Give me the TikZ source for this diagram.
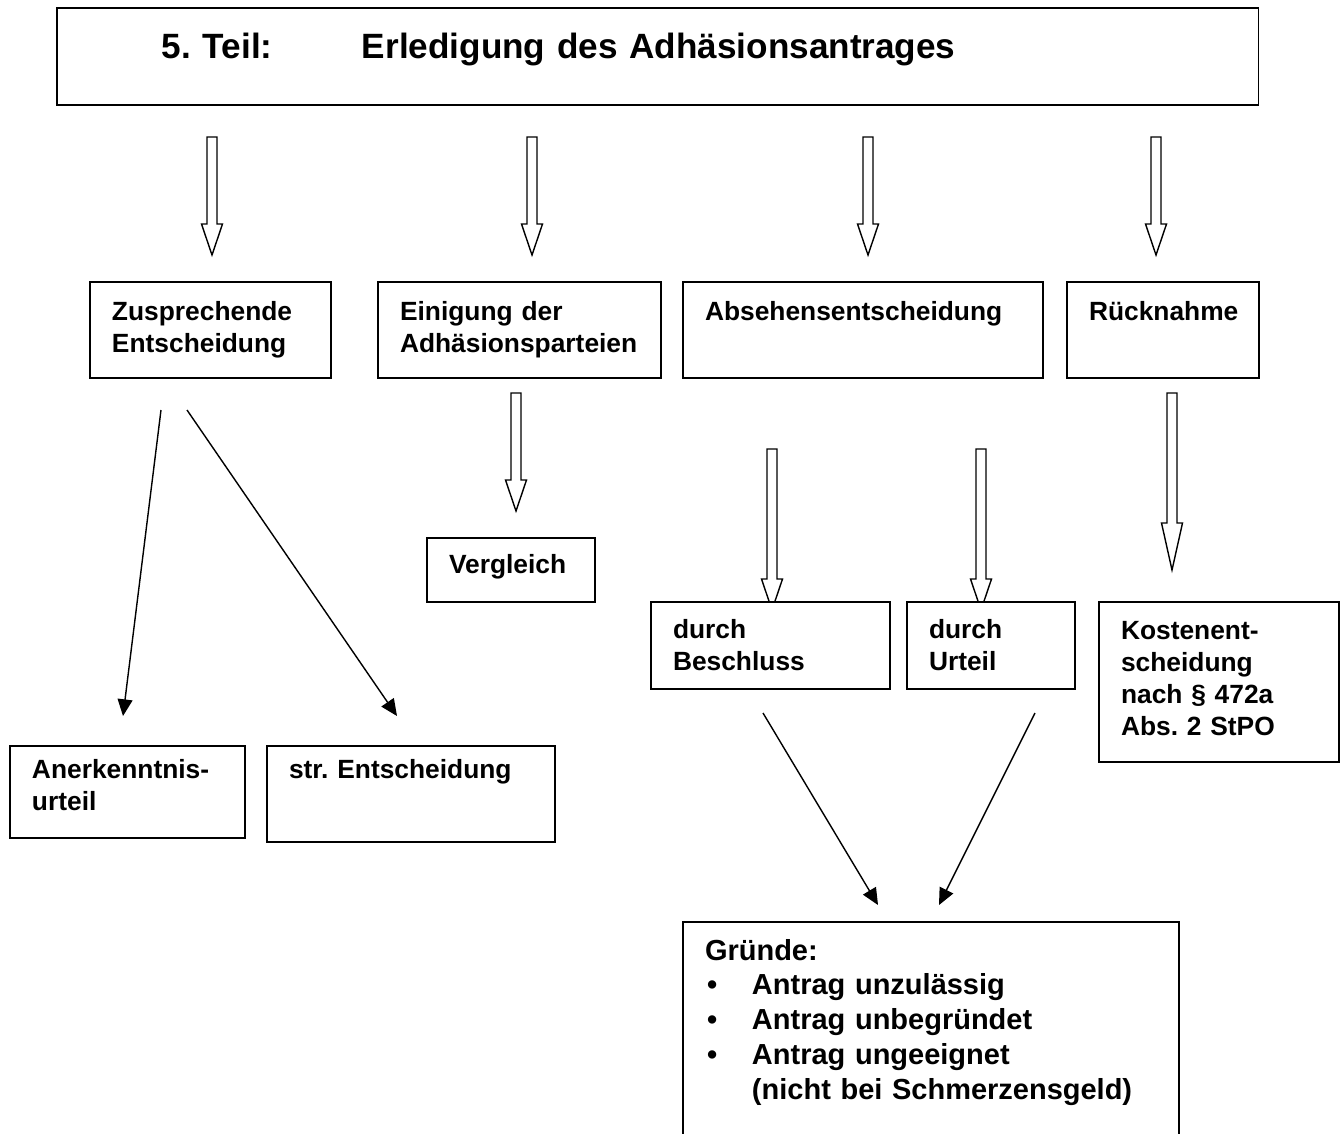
\documentclass[tikz,border=0pt]{standalone}
\usepackage{fontspec}
\setmainfont{Liberation Sans}
\usetikzlibrary{arrows.meta,calc}
\frenchspacing

\tikzset{
  box/.style n args={3}{draw, line width=0.8pt, fill=white, anchor=north west, outer sep=0pt,
    inner xsep=0.44cm, inner ysep=0pt, align=left,
    text width=#1, text height=#2, text depth=#3,
    font=\bfseries\fontsize{15pt}{18.4pt}\selectfont},
  hollow/.style={draw, line width=0.8pt, fill=white, line join=miter},
  arr/.style={line width=0.8pt, -{Triangle[length=9.5pt,width=8.5pt]}}
}

% block arrow: #1 top, #2 tip, #3 head length
\newcommand{\hollowarrow}[3]{%
  \draw[hollow] ($(#1)+(-5,0)$) -- ($(#1)+(5,0)$) -- ($(#2)+(5,-#3)$) -- ($(#2)+(10.5,-#3)$)
    -- (#2) -- ($(#2)+(-10.5,-#3)$) -- ($(#2)+(-5,-#3)$) -- cycle;}

\begin{document}
\begin{tikzpicture}[x=0.02cm,y=-0.02cm]
\useasboundingbox (0,0) rectangle (1344,1133);

%block arrows (drawn first, boxes cover the tips)
\coordinate (h1a) at (212,137); \coordinate (h1b) at (212,255);
\coordinate (h2a) at (532,137); \coordinate (h2b) at (532,255);
\coordinate (h3a) at (868,137); \coordinate (h3b) at (868,255);
\coordinate (h4a) at (1156,137); \coordinate (h4b) at (1156,255);
\coordinate (h5a) at (516,393); \coordinate (h5b) at (516,511);
\coordinate (h6a) at (772,449); \coordinate (h6b) at (772,610);
\coordinate (h7a) at (981,449); \coordinate (h7b) at (981,610);
\coordinate (h8a) at (1172,393); \coordinate (h8b) at (1172,570);

\hollowarrow{h1a}{h1b}{31}
\hollowarrow{h2a}{h2b}{31}
\hollowarrow{h3a}{h3b}{31}
\hollowarrow{h4a}{h4b}{31}
\hollowarrow{h5a}{h5b}{31}
\hollowarrow{h6a}{h6b}{31}
\hollowarrow{h7a}{h7b}{31}
\hollowarrow{h8a}{h8b}{47}

%boxes
\node[box={19.84cm}{1.02cm}{0.92cm}, inner xsep=2.1cm,
  font=\bfseries\fontsize{20pt}{24pt}\selectfont] (titel) at (57,8)
  {\makebox[4cm][l]{5. Teil:}Erledigung des Adhäsionsantrages};

\node[box={3.94cm}{0.76cm}{1.16cm}] (zus) at (90,282) {Zusprechende\\Entscheidung};
\node[box={4.78cm}{0.76cm}{1.16cm}] (einig) at (378,282) {Einigung der\\Adhäsionsparteien};
\node[box={6.32cm}{0.76cm}{1.16cm}] (abseh) at (683,282) {Absehensentscheidung};
\node[box={2.96cm}{0.76cm}{1.16cm}] (rueck) at (1067,282) {Rücknahme};

\node[box={2.48cm}{0.70cm}{0.58cm}] (vergl) at (427,538) {Vergleich};

\node[box={3.90cm}{0.72cm}{1.02cm}] (beschl) at (651,602) {durch\\Beschluss};
\node[box={2.48cm}{0.72cm}{1.02cm}] (urteil) at (907,602) {durch\\Urteil};
\node[box={3.92cm}{0.74cm}{2.46cm}] (kosten) at (1099,602)
  {Kostenent-\\scheidung\\nach § 472a\\Abs. 2 StPO};

\node[box={3.82cm}{0.64cm}{1.20cm}] (aner) at (10,746) {Anerkenntnis-\\urteil};
\node[box={4.88cm}{0.64cm}{1.28cm}] (str) at (267,746) {str. Entscheidung};

\node[box={9.04cm}{0.76cm}{3.8cm}, font=\bfseries\fontsize{16.5pt}{19.8pt}\selectfont]
  (gruende) at (683,922)
  {Gründe:\\
   \makebox[0.94cm][l]{\hspace{0.04cm}\textbullet}Antrag unzulässig\\
   \makebox[0.94cm][l]{\hspace{0.04cm}\textbullet}Antrag unbegründet\\
   \makebox[0.94cm][l]{\hspace{0.04cm}\textbullet}Antrag ungeeignet\\
   \hspace*{0.94cm}(nicht bei Schmerzensgeld)};

%arrows
\coordinate (za) at (161,410); \coordinate (zb) at (187,410);
\coordinate (anere) at (123,716); \coordinate (stre) at (397,716);
\coordinate (ba) at (763,713); \coordinate (ua) at (1035,713);
\coordinate (gra) at (878,905); \coordinate (grb) at (939,905);

\draw[arr] (za) -- (anere);
\draw[arr] (zb) -- (stre);
\draw[arr] (ba) -- (gra);
\draw[arr] (ua) -- (grb);
\end{tikzpicture}
\end{document}
